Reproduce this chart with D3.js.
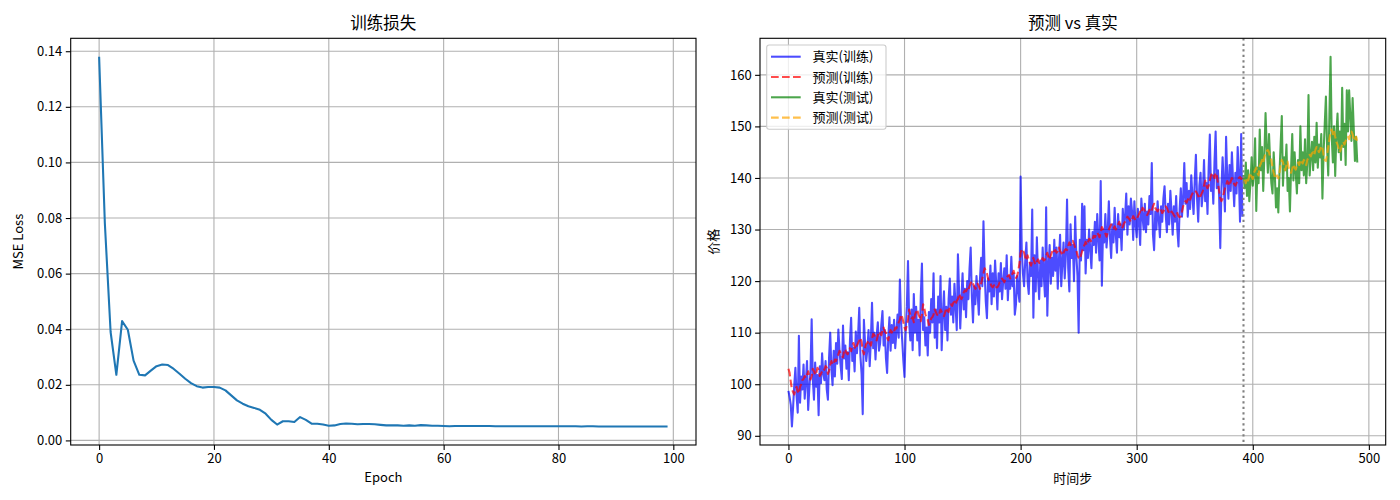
<!DOCTYPE html>
<html lang="zh">

<head>
  <meta charset="utf-8">
  <title>训练损失 / 预测 vs 真实</title>
  <script src="https://d3js.org/d3.v7.min.js"></script>
  <style>
    body {
      margin: 0;
      background: white;
    }

    text {
      font-family: "Noto Sans CJK SC", "DejaVu Sans", sans-serif;
      fill: black;
    }

    .grid line {
      stroke: #b0b0b0;
      stroke-width: 1.1;
    }

    .frame {
      fill: none;
      stroke: black;
      stroke-width: 1.1;
    }

    .tick text {
      font-size: 13px;
    }

    .title {
      font-size: 16.5px;
      text-anchor: middle;
    }

    .axlabel {
      font-size: 13px;
      text-anchor: middle;
    }

    .legend text {
      font-size: 13px;
    }
  </style>
</head>

<body>
  <div id="chart"></div>

  <script>
    // loss per epoch
    var lossValues = [
      0.138, 0.078, 0.039, 0.0236, 0.0429, 0.0398, 0.0287, 0.0236, 0.0234, 0.0251,
      0.0267, 0.0273, 0.0271, 0.0257, 0.0240, 0.0222, 0.0206, 0.0195, 0.0190, 0.0192,
      0.0192, 0.0190, 0.0180, 0.0162, 0.0144, 0.0132, 0.0123, 0.0117, 0.0110, 0.0096,
      0.0074, 0.0057, 0.0069, 0.0069, 0.0066, 0.0084, 0.0074, 0.0060, 0.0060, 0.0057,
      0.0053, 0.0054, 0.0059, 0.0061, 0.0060, 0.0058, 0.0059, 0.0059, 0.0058, 0.0056,
      0.0054, 0.0054, 0.0054, 0.0053, 0.0054, 0.0053, 0.0055, 0.0054, 0.0053, 0.0053,
      0.0052, 0.0051, 0.0052, 0.0052, 0.0052, 0.0052, 0.0052, 0.0052, 0.0052, 0.0051,
      0.0051, 0.0051, 0.0051, 0.0051, 0.0051, 0.0051, 0.0051, 0.0051, 0.0051, 0.0051,
      0.0051, 0.0051, 0.0051, 0.0051, 0.0050, 0.0051, 0.0051, 0.0050, 0.0050, 0.0050,
      0.0050, 0.0050, 0.0050, 0.0050, 0.0050, 0.0050, 0.0050, 0.0050, 0.0050, 0.0050
    ];

    // real price, training part (steps 0..391)
    var trueTrain = [
      98.7, 97.5, 96.0, 91.8, 95.5, 99.8, 103.2, 97.8, 94.5, 109.4,
      96.4, 101.5, 99.0, 103.8, 97.2, 100.5, 104.5, 95.0, 99.2, 102.6,
      112.6, 101.0, 97.0, 104.2, 99.5, 101.8, 94.0, 103.5, 100.2, 106.0,
      102.0, 100.8, 104.5, 99.0, 97.0, 105.2, 110.0, 103.0, 99.8, 106.5,
      101.5, 108.0, 104.0, 110.6, 106.5, 103.5, 101.0, 111.4, 105.0, 107.5,
      103.0, 106.2, 100.8, 108.5, 112.9, 104.5, 107.0, 102.5, 110.2, 106.0,
      109.5, 114.8, 105.5, 102.0, 94.2, 112.5, 108.0, 104.5, 106.8, 110.5,
      103.5, 108.5, 115.8, 107.0, 110.0, 104.8, 109.5, 112.0, 106.5, 108.0,
      111.5, 114.2, 107.5, 110.5, 105.0, 102.2, 109.0, 113.0, 106.5, 111.5,
      108.0, 112.5, 107.0, 110.0, 113.5, 109.0, 120.3, 112.0, 108.5, 104.5,
      101.4, 110.5, 115.0, 123.9, 112.0, 108.5, 114.5, 106.6, 117.5, 110.0,
      115.0, 108.5, 112.5, 105.6, 117.0, 123.4, 110.5, 113.0, 107.5, 111.0,
      105.6, 114.0, 110.0, 116.5, 112.0, 121.5, 109.0, 114.5, 107.0, 117.0,
      112.0, 121.0, 106.6, 113.5, 118.0, 110.5, 115.0, 108.5, 116.5, 120.5,
      113.5, 117.0, 112.0, 119.5, 115.0, 110.5, 125.2, 118.0, 110.8, 116.5,
      121.5, 114.5, 118.5, 113.0, 120.0, 116.5, 122.5, 126.5, 117.0, 112.0,
      119.0, 115.5, 121.0, 117.5, 113.5, 120.5, 124.5, 119.0, 131.6, 122.0,
      116.0, 112.8, 120.5, 118.0, 123.0, 115.5, 121.5, 117.0, 124.0, 119.5,
      114.5, 121.5, 118.0, 123.5, 116.5, 120.0, 122.5, 118.5, 125.0, 116.3,
      121.0, 118.5, 124.7, 119.0, 121.5, 113.5, 115.5, 121.0, 118.0, 116.0,
      140.3, 126.0, 121.5, 119.0, 124.0, 127.5, 120.0, 117.5, 123.5, 121.0,
      133.9, 112.9, 125.0, 118.0, 128.5, 121.0, 116.5, 124.0, 119.0, 126.5,
      121.0, 117.0, 134.3, 113.3, 122.5, 127.0, 119.5, 124.5, 121.0, 128.0,
      122.0, 126.5, 118.5, 124.0, 129.0, 119.0, 123.5, 127.5, 120.5, 125.0,
      135.8, 122.5, 118.0, 131.0, 124.5, 127.0, 120.0, 132.5, 125.0, 121.0,
      110.0, 128.0, 124.0, 135.0, 126.0, 134.5, 121.5, 128.0, 124.5, 130.0,
      126.0, 122.5, 129.5, 127.0, 131.5, 125.5, 133.0, 128.0, 124.0, 139.4,
      119.1, 130.0, 127.5, 133.0, 126.5, 129.5, 135.5, 128.5, 124.5, 131.0,
      127.5, 134.2, 129.0, 125.5, 133.0, 128.5, 131.0, 126.0, 134.0, 130.0,
      132.5, 137.0, 129.0, 134.5, 131.0, 136.0, 133.5, 128.0, 135.5, 131.0,
      128.5, 134.0, 131.5, 127.0, 136.0, 132.5, 130.0, 135.0, 129.5, 133.5,
      131.0, 136.5, 133.0, 142.9, 129.0, 126.0, 133.5, 130.0, 135.5, 132.0,
      128.5, 134.5, 131.5, 136.0, 138.4, 133.0, 129.5, 135.0, 131.0, 137.5,
      133.5, 129.0, 134.5, 131.5, 136.5, 130.0, 126.7, 134.0, 138.0, 132.5,
      136.0, 142.9, 135.0, 139.0, 132.5, 137.5, 134.0, 140.5, 136.5, 133.0,
      139.5, 144.5, 136.0, 131.5, 138.5, 141.0, 134.5, 137.0, 143.5, 135.5,
      139.0, 133.0, 142.0, 148.4, 137.5, 140.5, 135.0, 143.0, 149.0, 138.0,
      141.5, 136.5, 126.4, 138.0, 144.0, 139.0, 133.5, 148.0, 140.0, 136.0,
      142.5, 137.5, 145.0, 139.5, 134.5, 141.0, 137.0, 146.0, 140.5, 131.5,
      148.5, 132.5
    ];

    // predicted price, training part
    var predTrain = [
      103.0, 102.2, 100.5, 99.0, 98.5, 98.0, 98.8, 99.5, 98.6, 98.2,
      99.5, 100.0, 100.8, 101.0, 101.6, 101.2, 101.8, 102.5, 101.5, 100.9,
      101.5, 103.0, 102.5, 101.8, 102.2, 103.2, 102.8, 101.6, 102.0, 102.5,
      103.0, 102.8, 103.5, 103.2, 102.0, 102.6, 103.8, 104.5, 103.8, 104.0,
      104.8, 104.5, 105.2, 105.8, 106.5, 106.0, 105.5, 105.2, 106.5, 106.8,
      106.0, 105.8, 106.5, 107.0, 106.4, 107.5, 108.0, 107.2, 106.8, 107.5,
      108.0, 108.5, 109.0, 108.2, 106.5, 105.8, 107.0, 107.8, 108.0, 108.5,
      108.0, 107.5, 108.8, 109.8, 109.5, 109.0, 108.5, 109.5, 110.2, 109.8,
      109.5, 110.5, 111.0, 110.2, 110.0, 109.0, 108.5, 109.8, 110.5, 110.0,
      110.5, 110.2, 111.0, 110.8, 111.5, 112.0, 112.5, 113.5, 113.0, 112.0,
      111.0, 110.5, 111.5, 112.5, 114.5, 113.5, 112.8, 113.0, 112.0, 113.5,
      114.0, 114.5, 113.5, 113.0, 112.2, 113.5, 115.5, 114.8, 113.5, 113.0,
      112.5, 111.5, 112.0, 112.8, 113.0, 113.5, 114.5, 114.0, 113.5, 113.2,
      113.8, 114.5, 114.0, 113.5, 113.2, 114.0, 114.8, 114.2, 114.0, 115.0,
      115.5, 115.2, 115.8, 116.0, 115.5, 116.2, 116.5, 117.5, 117.0, 116.5,
      117.0, 117.8, 118.2, 118.0, 118.5, 118.2, 119.0, 119.6, 120.0, 119.5,
      119.0, 118.5, 118.8, 119.5, 119.0, 118.5, 119.5, 120.5, 121.5, 122.5,
      122.0, 121.5, 120.5, 120.0, 119.5, 119.0, 118.8, 119.2, 118.6, 118.8,
      118.8, 119.2, 119.8, 120.0, 120.5, 120.2, 119.8, 120.5, 120.8, 121.0,
      121.2, 120.5, 121.0, 121.5, 122.0, 121.2, 120.6, 121.0, 122.0, 123.5,
      125.5, 126.2, 126.0, 125.5, 124.5, 124.0, 125.0, 124.2, 123.5, 123.0,
      123.8, 124.5, 123.6, 123.2, 123.8, 124.2, 123.5, 123.8, 124.0, 124.5,
      124.0, 124.2, 124.9, 125.5, 124.5, 124.2, 125.0, 125.6, 126.2, 125.8,
      126.0, 125.5, 125.8, 126.5, 125.8, 125.5, 125.0, 125.5, 126.0, 126.2,
      126.0, 126.8, 127.5, 127.0, 127.4, 127.8, 127.2, 126.5, 126.0, 125.0,
      124.5, 124.3, 125.0, 125.8, 126.5, 127.0, 127.6, 127.0, 127.5, 128.2,
      128.0, 127.6, 128.2, 128.8, 128.5, 129.0, 129.4, 129.0, 128.5, 129.5,
      130.5, 130.0, 129.5, 129.2, 128.6, 129.4, 130.0, 130.5, 131.0, 130.4,
      130.2, 130.6, 130.0, 130.5, 131.0, 131.5, 130.8, 130.2, 130.5, 131.2,
      131.5, 131.8, 132.5, 132.2, 131.9, 131.5, 132.0, 132.6, 132.2, 131.8,
      132.0, 132.5, 133.0, 133.5, 133.2, 134.2, 134.0, 133.6, 133.0, 132.8,
      133.2, 133.8, 134.0, 133.6, 134.5, 135.0, 134.2, 133.8, 133.5, 134.0,
      134.2, 133.8, 133.2, 133.5, 134.0, 134.5, 134.2, 133.6, 133.2, 133.0,
      133.5, 133.2, 132.8, 132.5, 132.8, 133.2, 132.6, 132.4, 132.6, 133.5,
      134.5, 135.0, 135.5, 135.2, 135.8, 136.2, 135.8, 136.5, 137.0, 136.8,
      137.0, 137.4, 137.0, 136.5, 136.0, 136.5, 137.0, 137.5, 138.5, 139.5,
      138.5, 138.0, 138.5, 139.5, 140.5, 141.0, 140.5, 140.0, 141.0, 140.5,
      139.0, 137.5, 136.1, 135.5, 136.0, 137.0, 138.0, 138.5, 139.4, 139.0,
      138.5, 139.4, 140.0, 139.5, 138.8, 138.5, 139.0, 139.6, 140.0, 140.2,
      139.8, 140.0
    ];

    // real price, test part (steps 392..490)
    var trueTest = [
      140.6, 138.0, 143.0, 136.5, 141.5, 135.5, 139.0, 144.0, 138.5, 141.0,
      147.7, 133.6, 142.0, 139.0, 149.4, 141.5, 146.0, 137.5, 144.5, 152.6,
      146.0, 141.0, 148.5, 143.0, 139.0, 137.0, 145.0, 140.5, 134.3, 138.0,
      133.3, 141.0, 146.5, 152.0, 138.5, 144.0, 141.5, 146.5, 137.5, 140.0,
      133.5, 142.0, 148.5, 139.5, 145.0, 141.0, 137.0, 143.5, 139.0, 150.0,
      141.5, 145.0, 140.5, 147.5, 139.0, 143.0, 156.1, 140.5, 144.0, 147.0,
      141.5, 148.0, 143.0, 150.7, 142.0, 146.5, 144.0, 148.5, 136.0, 145.0,
      150.5, 155.8, 146.0, 140.5, 152.0, 163.5, 148.0, 143.0, 150.0, 140.4,
      148.5, 152.5, 145.0, 149.0, 143.5, 157.5, 146.0, 150.5, 142.5, 157.0,
      149.0, 157.0, 152.0, 147.2, 155.5, 149.5, 143.3, 148.0, 143.0
    ];

    // predicted price, test part
    var predTest = [
      139.5, 139.4, 139.0, 140.0, 139.5, 140.5, 141.0, 140.2, 139.8, 141.0,
      141.5, 142.0, 141.0, 140.5, 142.3, 142.8, 143.5, 143.0, 144.0, 144.8,
      145.2, 145.4, 145.0, 144.0, 143.5, 142.0, 141.0, 140.2, 139.9, 140.5,
      139.9, 141.0, 142.5, 143.5, 143.0, 142.0, 141.5, 142.5, 143.2, 142.0,
      141.5, 141.0, 141.8, 142.6, 142.0, 141.6, 142.4, 143.0, 142.5, 143.5,
      143.2, 142.8, 143.5, 143.0, 142.5, 143.5, 144.0, 144.5, 144.2, 144.8,
      145.0, 144.5, 145.5, 146.0, 145.5, 145.0, 145.5, 146.2, 145.8, 144.5,
      143.5, 143.3, 144.5, 146.0, 147.5, 149.0, 149.4, 148.5, 149.2, 148.0,
      147.0, 146.5, 145.7, 145.0, 145.7, 146.5, 147.0, 146.5, 147.2, 147.5,
      148.0, 147.5, 148.5, 149.0, 148.5, 147.5, 147.2, 148.0, 147.0
    ];

    var lossXTicks = [0, 20, 40, 60, 80, 100];
    var lossYTicks = [0, 0.02, 0.04, 0.06, 0.08, 0.10, 0.12, 0.14];
    var priceXTicks = [0, 100, 200, 300, 400, 500];
    var priceYTicks = [90, 100, 110, 120, 130, 140, 150, 160];

    var legendLabels = ["真实(训练)", "预测(训练)", "真实(测试)", "预测(测试)"];

    var width = 1400,
      height = 500;

    var svg = d3.select("#chart")
      .append("svg")
        .attr("width", width)
        .attr("height", height);

    var plotTop = 38.3, plotBottom = 445;
    var leftBox = {x0: 70.7, x1: 696};
    var rightBox = {x0: 760, x1: 1385.7};
    var lw = 2.08; // 1.5pt at 100 dpi
    var dashed = "7.7,3.3";

    // matplotlib style 5% margins
    function padded(lo, hi) {
      var m = (hi - lo) * 0.05;
      return [lo - m, hi + m];
    }

    function drawAxes(box, xs, ys, xTicks, yTicks, yFmt) {
      var g = svg.append("g");
      var xVisible = xTicks.filter(function(t) { return xs(t) >= box.x0 && xs(t) <= box.x1; });

      var grid = g.append("g").attr("class", "grid");
      grid.selectAll("line.vx")
        .data(xVisible)
        .enter()
        .append("line")
          .attr("x1", function(d) { return xs(d); })
          .attr("x2", function(d) { return xs(d); })
          .attr("y1", plotTop)
          .attr("y2", plotBottom);
      grid.selectAll("line.hy")
        .data(yTicks)
        .enter()
        .append("line")
          .attr("x1", box.x0)
          .attr("x2", box.x1)
          .attr("y1", function(d) { return ys(d); })
          .attr("y2", function(d) { return ys(d); });

      var xAxis = g.append("g")
        .attr("transform", "translate(0," + plotBottom + ")")
        .call(d3.axisBottom(xs).tickValues(xVisible).tickSize(4.9).tickPadding(4));

      var yAxis = g.append("g")
        .attr("transform", "translate(" + box.x0 + ",0)")
        .call(d3.axisLeft(ys).tickValues(yTicks).tickFormat(yFmt).tickSize(4.9).tickPadding(3.5));

      [xAxis, yAxis].forEach(function(a) {
        a.select(".domain").remove();
        a.selectAll(".tick line").attr("stroke", "black").attr("stroke-width", 1.1);
        a.selectAll(".tick text").attr("fill", "black").style("font-family", "'Noto Sans CJK SC', sans-serif");
      });

      return g;
    }

    function drawFrame(box) {
      svg.append("rect")
        .attr("class", "frame")
        .attr("x", box.x0)
        .attr("y", plotTop)
        .attr("width", box.x1 - box.x0)
        .attr("height", plotBottom - plotTop);
    }

    // ---------- left: loss ----------
    var lossX = d3.scaleLinear()
      .domain(padded(0, lossValues.length - 1))
      .range([leftBox.x0, leftBox.x1]);
    var lossY = d3.scaleLinear()
      .domain(padded(d3.min(lossValues), d3.max(lossValues)))
      .range([plotBottom, plotTop]);

    drawAxes(leftBox, lossX, lossY, lossXTicks, lossYTicks, d3.format(".2f"));

    svg.append("path")
      .datum(lossValues)
      .attr("fill", "none")
      .attr("stroke", "#1f77b4")
      .attr("stroke-width", lw)
      .attr("stroke-linejoin", "round")
      .attr("d", d3.line()
        .x(function(d, i) { return lossX(i); })
        .y(function(d) { return lossY(d); }));

    drawFrame(leftBox);

    svg.append("text")
      .attr("class", "title")
      .attr("x", (leftBox.x0 + leftBox.x1) / 2)
      .attr("y", 29)
      .text("训练损失");
    svg.append("text")
      .attr("class", "axlabel")
      .attr("x", (leftBox.x0 + leftBox.x1) / 2)
      .attr("y", 482)
      .text("Epoch");
    svg.append("text")
      .attr("class", "axlabel")
      .attr("transform", "translate(23," + ((plotTop + plotBottom) / 2) + ") rotate(-90)")
      .text("MSE Loss");

    // ---------- right: prediction vs truth ----------
    var split = trueTrain.length;
    var lastStep = split + trueTest.length - 1;
    var allPrices = trueTrain.concat(predTrain, trueTest, predTest);

    var priceX = d3.scaleLinear()
      .domain(padded(0, lastStep))
      .range([rightBox.x0, rightBox.x1]);
    var priceY = d3.scaleLinear()
      .domain(padded(d3.min(allPrices), d3.max(allPrices)))
      .range([plotBottom, plotTop]);

    drawAxes(rightBox, priceX, priceY, priceXTicks, priceYTicks, d3.format("d"));

    svg.append("clipPath").attr("id", "clipRight")
      .append("rect")
        .attr("x", rightBox.x0)
        .attr("y", plotTop)
        .attr("width", rightBox.x1 - rightBox.x0)
        .attr("height", plotBottom - plotTop);

    var plot = svg.append("g").attr("clip-path", "url(#clipRight)");

    var series = [
      {values: trueTrain, offset: 0, color: "rgb(0,0,255)", dash: null},
      {values: predTrain, offset: 0, color: "rgb(255,0,0)", dash: dashed},
      {values: trueTest, offset: split, color: "rgb(0,128,0)", dash: null},
      {values: predTest, offset: split, color: "rgb(255,165,0)", dash: dashed}
    ];

    series.forEach(function(s) {
      plot.append("path")
        .datum(s.values)
        .attr("fill", "none")
        .attr("stroke", s.color)
        .attr("stroke-opacity", 0.7)
        .attr("stroke-width", lw)
        .attr("stroke-linejoin", "round")
        .attr("stroke-dasharray", s.dash)
        .attr("d", d3.line()
          .x(function(d, i) { return priceX(i + s.offset); })
          .y(function(d) { return priceY(d); }));
    });

    // train/test split marker
    plot.append("line")
      .attr("x1", priceX(split))
      .attr("x2", priceX(split))
      .attr("y1", plotTop)
      .attr("y2", plotBottom)
      .attr("stroke", "gray")
      .attr("stroke-width", lw)
      .attr("stroke-dasharray", "2.1,3.4");

    drawFrame(rightBox);

    // legend
    var legend = svg.append("g").attr("class", "legend");
    legend.append("rect")
      .attr("x", 766.7)
      .attr("y", 45)
      .attr("width", 119.3)
      .attr("height", 84.3)
      .attr("rx", 2.5)
      .attr("fill", "white")
      .attr("fill-opacity", 0.8)
      .attr("stroke", "#cccccc")
      .attr("stroke-width", 1.1);

    var entry = legend.selectAll("g.entry")
      .data(series)
      .enter()
      .append("g")
        .attr("class", "entry")
        .attr("transform", function(d, i) { return "translate(0," + (56.7 + i * 20.3) + ")"; });
    entry.append("line")
      .attr("x1", 771)
      .attr("x2", 800.7)
      .attr("stroke", function(d) { return d.color; })
      .attr("stroke-opacity", 0.7)
      .attr("stroke-width", lw)
      .attr("stroke-dasharray", function(d) { return d.dash; });
    entry.append("text")
      .attr("x", 812.5)
      .attr("y", 4.5)
      .text(function(d, i) { return legendLabels[i]; });

    svg.append("text")
      .attr("class", "title")
      .attr("x", (rightBox.x0 + rightBox.x1) / 2)
      .attr("y", 29)
      .text("预测 vs 真实");
    svg.append("text")
      .attr("class", "axlabel")
      .attr("x", (rightBox.x0 + rightBox.x1) / 2)
      .attr("y", 483)
      .text("时间步");
    svg.append("text")
      .attr("class", "axlabel")
      .attr("transform", "translate(718," + ((plotTop + plotBottom) / 2) + ") rotate(-90)")
      .text("价格");
  </script>
</body>

</html>
